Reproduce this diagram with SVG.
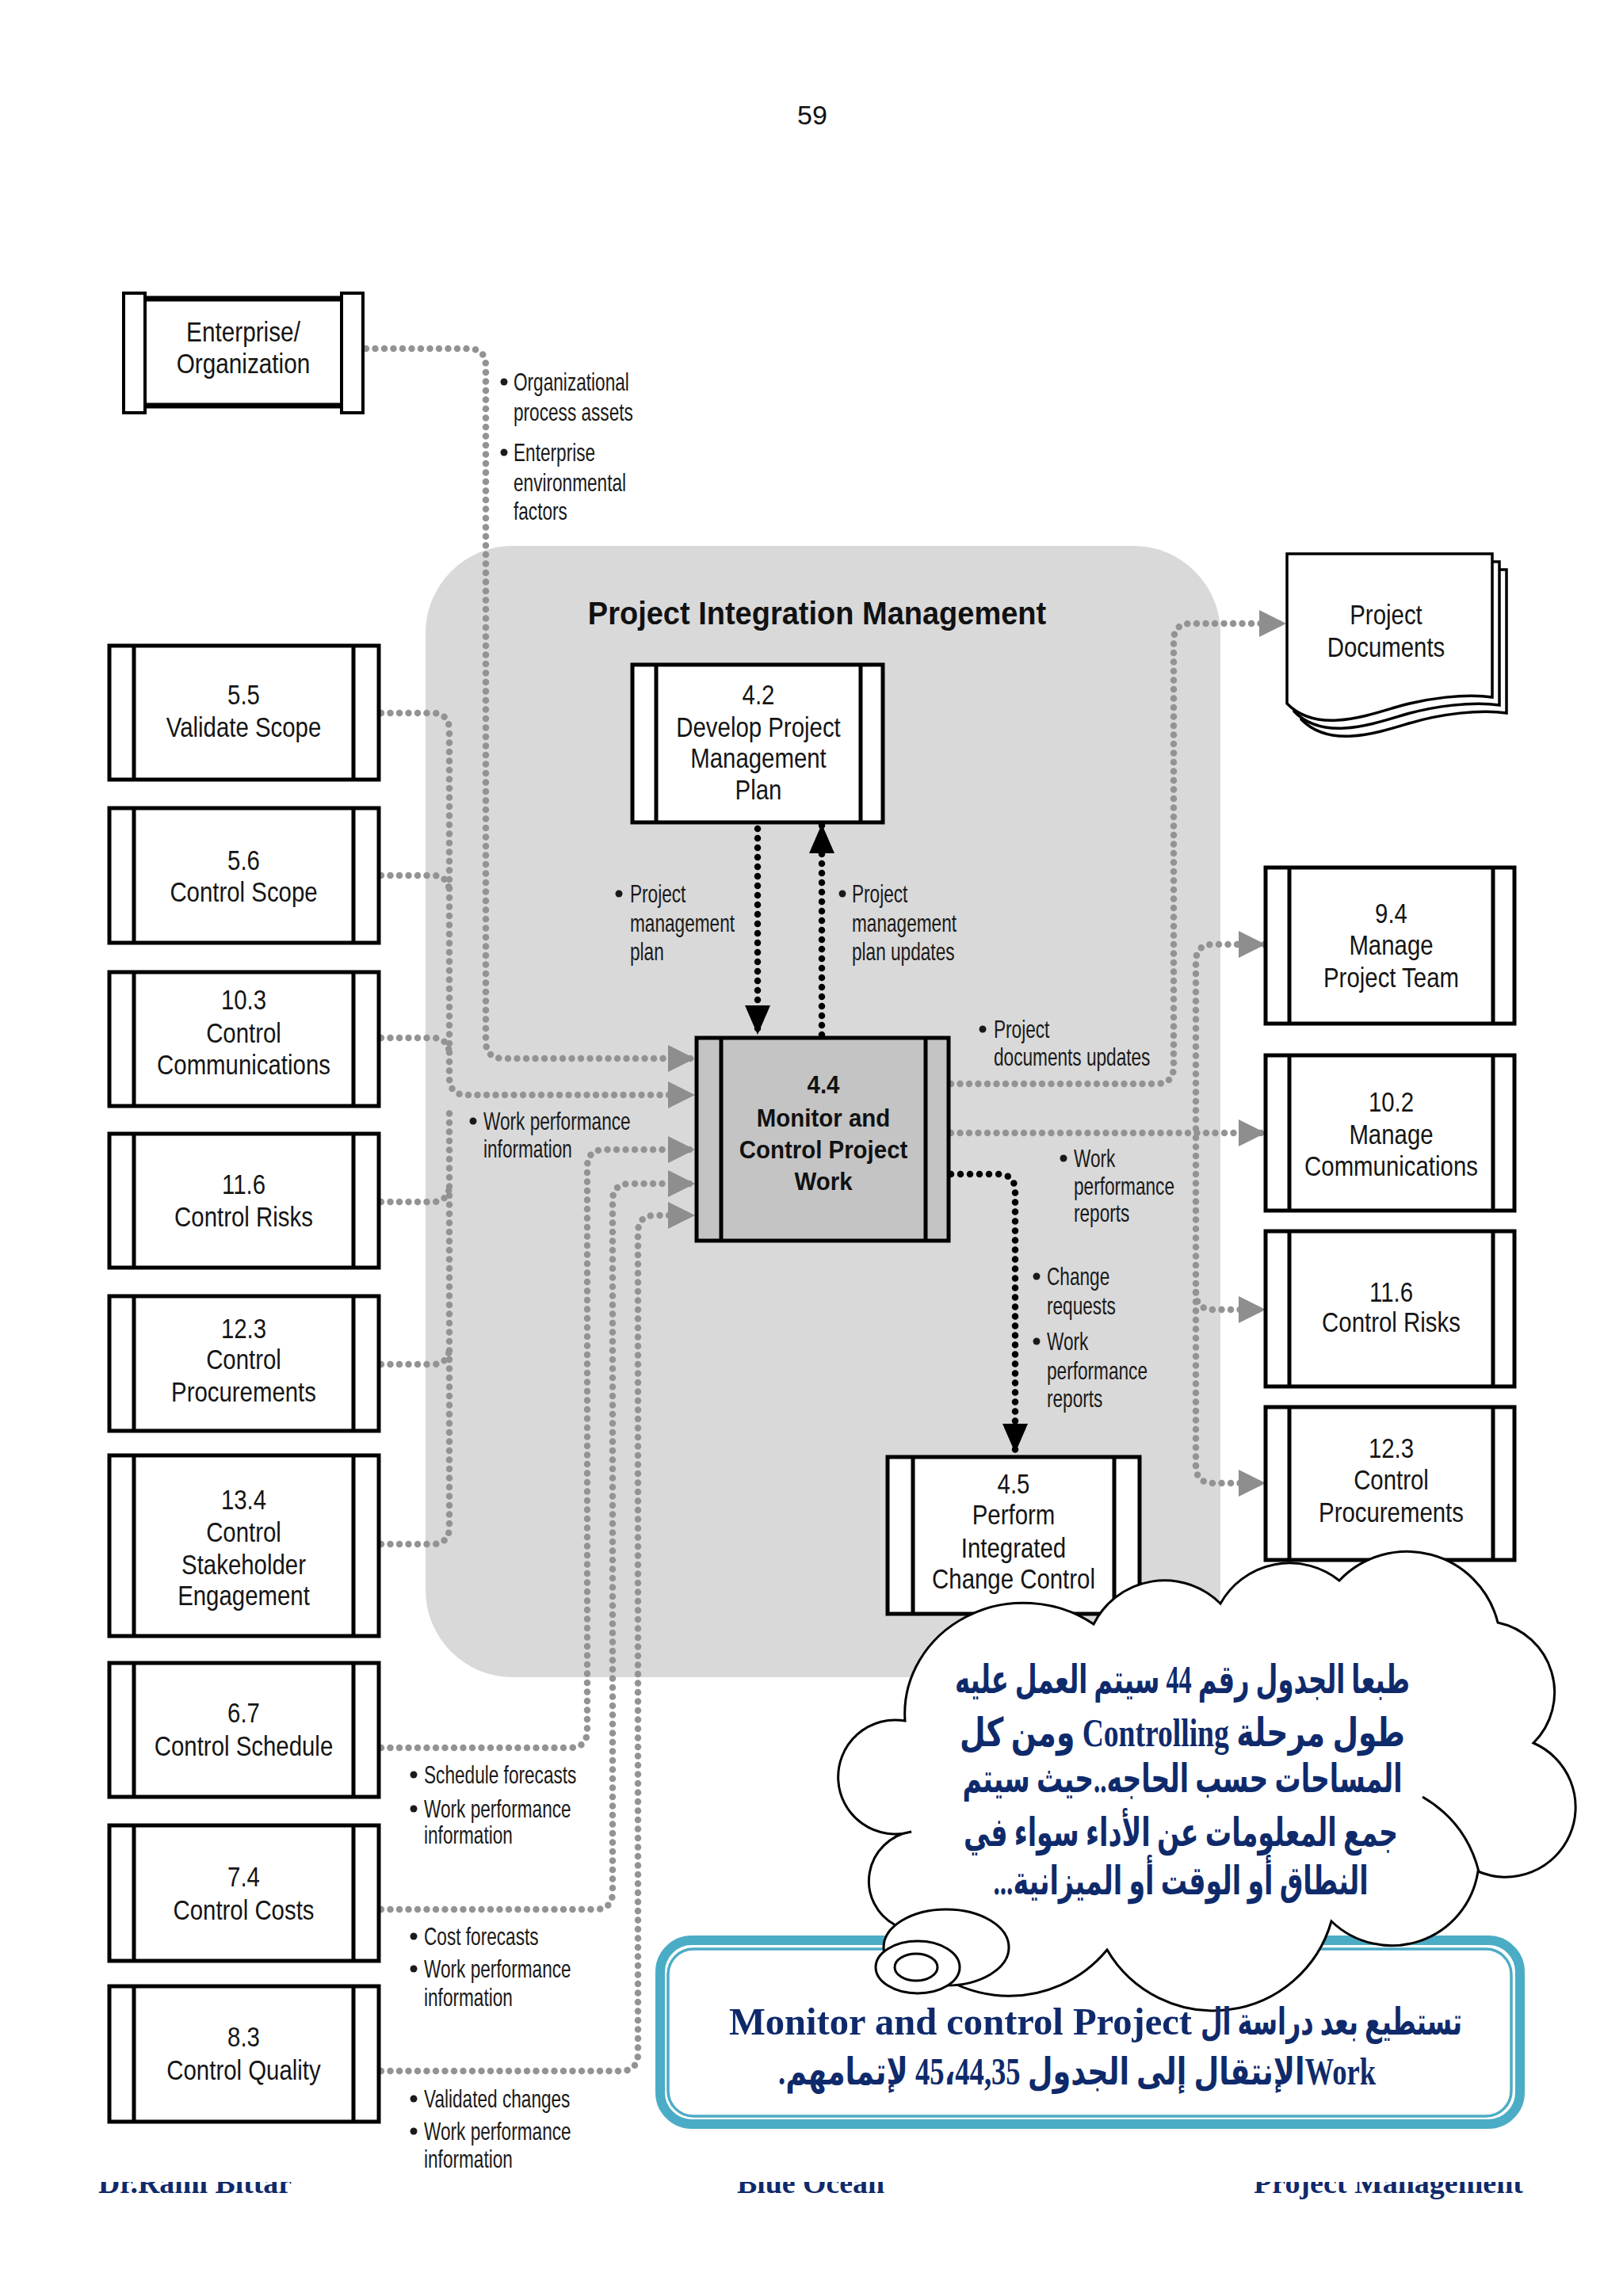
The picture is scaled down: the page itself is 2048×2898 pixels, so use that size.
<svg xmlns="http://www.w3.org/2000/svg" width="2048" height="2898" viewBox="0 0 2048 2898">
<style>
.box{fill:#fff;stroke:#000;stroke-width:5}
.bar{stroke:#000;stroke-width:5}
.t{font-family:'Liberation Sans',Arial,sans-serif;font-size:35px;text-anchor:middle;fill:#151515}
.tb{font-family:'Liberation Sans',Arial,sans-serif;font-size:31px;font-weight:bold;text-anchor:middle;fill:#111}
.l{font-family:'Liberation Sans',Arial,sans-serif;font-size:31px;fill:#1a1a1a}
.g{fill:none;stroke:#939393;stroke-width:8.5;stroke-linecap:round;stroke-dasharray:0 11.5}
.k{fill:none;stroke:#000;stroke-width:8.5;stroke-linecap:round;stroke-dasharray:0 12}
.ar{font-family:'Liberation Serif','DejaVu Sans',serif;font-weight:bold;fill:#0f2a6b;text-anchor:middle}
.ft{font-family:'Liberation Serif',serif;font-weight:bold;font-size:38px;fill:#0f2a6b}
</style>
<defs>
<marker id="ag" markerUnits="userSpaceOnUse" markerWidth="36" markerHeight="36" refX="34" refY="17" orient="auto" overflow="visible"><path d="M0 0 L34 17 L0 34 Z" fill="#8e8e8e"/></marker>
<marker id="ak" markerUnits="userSpaceOnUse" markerWidth="38" markerHeight="34" refX="37" refY="16" orient="auto" overflow="visible"><path d="M0 0 L37 16 L0 32 Z" fill="#000"/></marker>
<clipPath id="fc"><rect x="0" y="2754" width="2048" height="60"/></clipPath>
</defs>
<rect width="2048" height="2898" fill="#fff"/>
<text x="1025" y="157" font-family="'Liberation Sans',Arial,sans-serif" font-size="34" text-anchor="middle" fill="#111">59</text>

<rect id="pim" x="537" y="689" width="1003" height="1428" rx="110" fill="#d9d9d9"/>
<g transform="translate(1031 0) scale(.95 1)"><text x="0" y="788" font-family="'Liberation Sans',Arial,sans-serif" font-size="40" font-weight="bold" text-anchor="middle" fill="#111">Project Integration Management</text></g>

<g id="connectors">
<path class="g" d="M462 440 H591 Q613 440 613 462 V1314 Q613 1336 635 1336 H877" marker-end="url(#ag)"/>
<path class="g" d="M481 900 H545 Q567 900 567 922 V1360 Q567 1382 589 1382 H877" marker-end="url(#ag)"/>
<path class="g" d="M481 1105 H545 Q567 1105 567 1127"/>
<path class="g" d="M481 1310 H545 Q567 1310 567 1332"/>
<path class="g" d="M481 1517 H545 Q567 1517 567 1495"/>
<path class="g" d="M481 1722 H545 Q567 1722 567 1700"/>
<path class="g" d="M481 1949 H545 Q567 1949 567 1927 V1404"/>
<path class="g" d="M481 2206 H719 Q741 2206 741 2184 V1473 Q741 1451 763 1451 H877" marker-end="url(#ag)"/>
<path class="g" d="M481 2410 H751 Q773 2410 773 2388 V1516 Q773 1494 795 1494 H877" marker-end="url(#ag)"/>
<path class="g" d="M481 2614 H783 Q805 2614 805 2592 V1556 Q805 1534 827 1534 H877" marker-end="url(#ag)"/>
<path class="g" d="M1200 1368 H1459 Q1481 1368 1481 1346 V809 Q1481 787 1503 787 H1623" marker-end="url(#ag)"/>
<path class="g" d="M1200 1430 H1597" marker-end="url(#ag)"/>
<path class="g" d="M1509 1850 V1214 Q1509 1192 1531 1192 H1597" marker-end="url(#ag)"/>
<path class="g" d="M1509 1631 Q1509 1653 1531 1653 H1597" marker-end="url(#ag)"/>
<path class="g" d="M1509 1850 Q1509 1872 1531 1872 H1597" marker-end="url(#ag)"/>
<path class="k" d="M956 1046 V1306" marker-end="url(#ak)"/>
<path class="k" d="M1037 1306 V1040" marker-end="url(#ak)"/>
<path class="k" d="M1200 1482 H1259 Q1281 1482 1281 1504 V1834" marker-end="url(#ak)"/>
</g>

<g id="enterprise">
<rect x="183" y="377" width="248" height="135" fill="#fff"/>
<line x1="183" y1="377" x2="431" y2="377" stroke="#000" stroke-width="7"/>
<line x1="183" y1="512" x2="431" y2="512" stroke="#000" stroke-width="7"/>
<rect x="156" y="370" width="27" height="151" fill="#fff" stroke="#000" stroke-width="4"/>
<rect x="431" y="370" width="27" height="151" fill="#fff" stroke="#000" stroke-width="4"/>
<g transform="translate(307 0) scale(.85 1)"><text class="t" x="0" y="431">Enterprise/</text><text class="t" x="0" y="471">Organization</text></g>
</g>

<g id="n55"><rect class="box" x="138" y="815" width="340" height="169"/><line class="bar" x1="169" y1="815" x2="169" y2="984"/><line class="bar" x1="446" y1="815" x2="446" y2="984"/>
<g transform="translate(307.5 0) scale(.84 1)"><text class="t" x="0" y="889">5.5</text><text class="t" x="0" y="930">Validate Scope</text></g></g>
<g id="n56"><rect class="box" x="138" y="1020" width="340" height="170"/><line class="bar" x1="169" y1="1020" x2="169" y2="1190"/><line class="bar" x1="446" y1="1020" x2="446" y2="1190"/>
<g transform="translate(307.5 0) scale(.84 1)"><text class="t" x="0" y="1098">5.6</text><text class="t" x="0" y="1138">Control Scope</text></g></g>
<g id="n103"><rect class="box" x="138" y="1227" width="340" height="169"/><line class="bar" x1="169" y1="1227" x2="169" y2="1396"/><line class="bar" x1="446" y1="1227" x2="446" y2="1396"/>
<g transform="translate(307.5 0) scale(.84 1)"><text class="t" x="0" y="1274">10.3</text><text class="t" x="0" y="1316">Control</text><text class="t" x="0" y="1356">Communications</text></g></g>
<g id="n116l"><rect class="box" x="138" y="1431" width="340" height="169"/><line class="bar" x1="169" y1="1431" x2="169" y2="1600"/><line class="bar" x1="446" y1="1431" x2="446" y2="1600"/>
<g transform="translate(307.5 0) scale(.84 1)"><text class="t" x="0" y="1507">11.6</text><text class="t" x="0" y="1548">Control Risks</text></g></g>
<g id="n123l"><rect class="box" x="138" y="1636" width="340" height="170"/><line class="bar" x1="169" y1="1636" x2="169" y2="1806"/><line class="bar" x1="446" y1="1636" x2="446" y2="1806"/>
<g transform="translate(307.5 0) scale(.84 1)"><text class="t" x="0" y="1689">12.3</text><text class="t" x="0" y="1728">Control</text><text class="t" x="0" y="1769">Procurements</text></g></g>
<g id="n134"><rect class="box" x="138" y="1837" width="340" height="228"/><line class="bar" x1="169" y1="1837" x2="169" y2="2065"/><line class="bar" x1="446" y1="1837" x2="446" y2="2065"/>
<g transform="translate(307.5 0) scale(.84 1)"><text class="t" x="0" y="1905">13.4</text><text class="t" x="0" y="1946">Control</text><text class="t" x="0" y="1987">Stakeholder</text><text class="t" x="0" y="2026">Engagement</text></g></g>
<g id="n67"><rect class="box" x="138" y="2099" width="340" height="169"/><line class="bar" x1="169" y1="2099" x2="169" y2="2268"/><line class="bar" x1="446" y1="2099" x2="446" y2="2268"/>
<g transform="translate(307.5 0) scale(.84 1)"><text class="t" x="0" y="2174">6.7</text><text class="t" x="0" y="2216">Control Schedule</text></g></g>
<g id="n74"><rect class="box" x="138" y="2304" width="340" height="171"/><line class="bar" x1="169" y1="2304" x2="169" y2="2475"/><line class="bar" x1="446" y1="2304" x2="446" y2="2475"/>
<g transform="translate(307.5 0) scale(.84 1)"><text class="t" x="0" y="2381">7.4</text><text class="t" x="0" y="2423">Control Costs</text></g></g>
<g id="n83"><rect class="box" x="138" y="2507" width="340" height="171"/><line class="bar" x1="169" y1="2507" x2="169" y2="2678"/><line class="bar" x1="446" y1="2507" x2="446" y2="2678"/>
<g transform="translate(307.5 0) scale(.84 1)"><text class="t" x="0" y="2583">8.3</text><text class="t" x="0" y="2625">Control Quality</text></g></g>

<g id="n42"><rect class="box" x="798" y="839" width="316" height="199"/><line class="bar" x1="828" y1="839" x2="828" y2="1038"/><line class="bar" x1="1086" y1="839" x2="1086" y2="1038"/>
<g transform="translate(957 0) scale(.84 1)"><text class="t" x="0" y="889">4.2</text><text class="t" x="0" y="930">Develop Project</text><text class="t" x="0" y="969">Management</text><text class="t" x="0" y="1009">Plan</text></g></g>
<g id="n44"><rect x="879" y="1310" width="318" height="256" fill="#c4c4c4" stroke="#000" stroke-width="5"/><line class="bar" x1="910" y1="1310" x2="910" y2="1566"/><line class="bar" x1="1168" y1="1310" x2="1168" y2="1566"/>
<g transform="translate(1039 0) scale(.95 1)"><text class="tb" x="0" y="1380">4.4</text><text class="tb" x="0" y="1422">Monitor and</text><text class="tb" x="0" y="1462">Control Project</text><text class="tb" x="0" y="1502">Work</text></g></g>
<g id="n45"><rect class="box" x="1120" y="1839" width="318" height="198"/><line class="bar" x1="1152" y1="1839" x2="1152" y2="2037"/><line class="bar" x1="1406" y1="1839" x2="1406" y2="2037"/>
<g transform="translate(1279 0) scale(.84 1)"><text class="t" x="0" y="1885">4.5</text><text class="t" x="0" y="1924">Perform</text><text class="t" x="0" y="1966">Integrated</text><text class="t" x="0" y="2005">Change Control</text></g></g>

<g id="docs" fill="#fff" stroke="#000" stroke-width="3.5">
<path d="M1642 719 H1901 V900 C1868 895 1818 901 1778 913 C1738 925 1678 945 1642 908 Z"/>
<path d="M1633 709 H1892 V890 C1859 885 1809 891 1769 903 C1729 915 1669 935 1633 898 Z"/>
<path d="M1624 699 H1883 V880 C1850 875 1800 881 1760 893 C1720 905 1660 925 1624 888 Z"/>
<g transform="translate(1749 0) scale(.84 1)"><text class="t" x="0" y="788" stroke="none">Project</text><text class="t" x="0" y="829" stroke="none">Documents</text></g>
</g>

<g id="n94"><rect class="box" x="1597" y="1095" width="314" height="197"/><line class="bar" x1="1627" y1="1095" x2="1627" y2="1292"/><line class="bar" x1="1884" y1="1095" x2="1884" y2="1292"/>
<g transform="translate(1755.5 0) scale(.84 1)"><text class="t" x="0" y="1165">9.4</text><text class="t" x="0" y="1205">Manage</text><text class="t" x="0" y="1246">Project Team</text></g></g>
<g id="n102"><rect class="box" x="1597" y="1332" width="314" height="196"/><line class="bar" x1="1627" y1="1332" x2="1627" y2="1528"/><line class="bar" x1="1884" y1="1332" x2="1884" y2="1528"/>
<g transform="translate(1755.5 0) scale(.84 1)"><text class="t" x="0" y="1403">10.2</text><text class="t" x="0" y="1444">Manage</text><text class="t" x="0" y="1484">Communications</text></g></g>
<g id="n116r"><rect class="box" x="1597" y="1554" width="314" height="196"/><line class="bar" x1="1627" y1="1554" x2="1627" y2="1750"/><line class="bar" x1="1884" y1="1554" x2="1884" y2="1750"/>
<g transform="translate(1755.5 0) scale(.84 1)"><text class="t" x="0" y="1643">11.6</text><text class="t" x="0" y="1681">Control Risks</text></g></g>
<g id="n123r"><rect class="box" x="1597" y="1776" width="314" height="193"/><line class="bar" x1="1627" y1="1776" x2="1627" y2="1969"/><line class="bar" x1="1884" y1="1776" x2="1884" y2="1969"/>
<g transform="translate(1755.5 0) scale(.84 1)"><text class="t" x="0" y="1840">12.3</text><text class="t" x="0" y="1880">Control</text><text class="t" x="0" y="1921">Procurements</text></g></g>

<g id="labels" fill="#1a1a1a">
<circle cx="636" cy="482" r="4.5"/><circle cx="636" cy="571" r="4.5"/>
<g transform="translate(648 0) scale(.73 1)"><text class="l" x="0" y="493">Organizational</text><text class="l" x="0" y="531">process assets</text><text class="l" x="0" y="582">Enterprise</text><text class="l" x="0" y="620">environmental</text><text class="l" x="0" y="656">factors</text></g>
<circle cx="781" cy="1128" r="4.5"/>
<g transform="translate(795 0) scale(.73 1)"><text class="l" x="0" y="1139">Project</text><text class="l" x="0" y="1176">management</text><text class="l" x="0" y="1212">plan</text></g>
<circle cx="1063" cy="1128" r="4.5"/>
<g transform="translate(1075 0) scale(.73 1)"><text class="l" x="0" y="1139">Project</text><text class="l" x="0" y="1176">management</text><text class="l" x="0" y="1212">plan updates</text></g>
<circle cx="1240" cy="1299" r="4.5"/>
<g transform="translate(1254 0) scale(.73 1)"><text class="l" x="0" y="1310">Project</text><text class="l" x="0" y="1345">documents updates</text></g>
<circle cx="597" cy="1415" r="4.5"/>
<g transform="translate(610 0) scale(.73 1)"><text class="l" x="0" y="1426">Work performance</text><text class="l" x="0" y="1461">information</text></g>
<circle cx="1342" cy="1462" r="4.5"/>
<g transform="translate(1355 0) scale(.73 1)"><text class="l" x="0" y="1473">Work</text><text class="l" x="0" y="1508">performance</text><text class="l" x="0" y="1542">reports</text></g>
<circle cx="1308" cy="1611" r="4.5"/><circle cx="1308" cy="1693" r="4.5"/>
<g transform="translate(1321 0) scale(.73 1)"><text class="l" x="0" y="1622">Change</text><text class="l" x="0" y="1659">requests</text><text class="l" x="0" y="1704">Work</text><text class="l" x="0" y="1741">performance</text><text class="l" x="0" y="1776">reports</text></g>
<circle cx="522" cy="2240" r="4.5"/><circle cx="522" cy="2283" r="4.5"/>
<g transform="translate(535 0) scale(.73 1)"><text class="l" x="0" y="2251">Schedule forecasts</text><text class="l" x="0" y="2294">Work performance</text><text class="l" x="0" y="2327">information</text></g>
<circle cx="522" cy="2444" r="4.5"/><circle cx="522" cy="2485" r="4.5"/>
<g transform="translate(535 0) scale(.73 1)"><text class="l" x="0" y="2455">Cost forecasts</text><text class="l" x="0" y="2496">Work performance</text><text class="l" x="0" y="2532">information</text></g>
<circle cx="522" cy="2649" r="4.5"/><circle cx="522" cy="2690" r="4.5"/>
<g transform="translate(535 0) scale(.73 1)"><text class="l" x="0" y="2660">Validated changes</text><text class="l" x="0" y="2701">Work performance</text><text class="l" x="0" y="2736">information</text></g>
</g>

<g id="notebox">
<rect x="833" y="2449" width="1085" height="232" rx="40" fill="#fff" stroke="#4bacc6" stroke-width="12"/>
<rect x="843" y="2460" width="1064" height="211" rx="32" fill="none" stroke="#4bacc6" stroke-width="3.5"/>
</g>

<g id="cloud" fill="#fff" stroke="#000" stroke-width="3">
<path d="M1142 2172 A150 140 0 0 1 1380 2050 A100 100 0 0 1 1540 2024 A100 100 0 0 1 1690 1995 A118 118 0 0 1 1890 2048 A90 90 0 0 1 1935 2200 A88 88 0 0 1 1865 2362 A110 110 0 0 1 1680 2425 A155 155 0 0 1 1397 2461 A160 160 0 0 1 1130 2430 A63 63 0 0 1 1150 2312 A72 72 0 1 1 1142 2172 Z"/>
<path fill="none" d="M1795 2268 Q1850 2300 1866 2362"/>
<ellipse cx="1194" cy="2458" rx="79" ry="48"/>
<ellipse cx="1158" cy="2483" rx="53" ry="33"/>
<ellipse cx="1156" cy="2483" rx="27" ry="17"/>
</g>

<g id="cloudtext" font-size="50">
<text class="ar" direction="rtl" x="1492" y="2137" textLength="574" lengthAdjust="spacingAndGlyphs">طبعا الجدول رقم 44 سيتم العمل عليه</text>
<text class="ar" direction="rtl" x="1492" y="2204" textLength="562" lengthAdjust="spacingAndGlyphs">طول مرحلة Controlling ومن كل</text>
<text class="ar" direction="rtl" x="1492" y="2262" textLength="555" lengthAdjust="spacingAndGlyphs">المساحات  حسب الحاجه..حيث سيتم</text>
<text class="ar" direction="rtl" x="1490" y="2330" textLength="548" lengthAdjust="spacingAndGlyphs">جمع المعلومات عن الأداء سواء في</text>
<text class="ar" direction="rtl" x="1490" y="2391" textLength="473" lengthAdjust="spacingAndGlyphs">النطاق أو الوقت أو الميزانية...</text>
</g>
<g id="notetext" font-size="48">
<text class="ar" direction="rtl" x="1680" y="2568" textLength="330" lengthAdjust="spacingAndGlyphs">تستطيع بعد دراسة ال</text>
<text class="ar" x="1212" y="2568" textLength="584" lengthAdjust="spacingAndGlyphs">Monitor and control Project</text>
<text class="ar" direction="rtl" x="1359" y="2631" textLength="754" lengthAdjust="spacingAndGlyphs">Workالإنتقال إلى الجدول 45،44,35  لإتمامهم.</text>
</g>

<g id="footer" clip-path="url(#fc)">
<text class="ft" x="124" y="2768" textLength="244" lengthAdjust="spacingAndGlyphs">Dr.Rami Bittar</text>
<text class="ft" x="930" y="2768" textLength="186" lengthAdjust="spacingAndGlyphs">Blue Ocean</text>
<text class="ft" x="1582" y="2768" textLength="340" lengthAdjust="spacingAndGlyphs">Project Management</text>
</g>
</svg>
